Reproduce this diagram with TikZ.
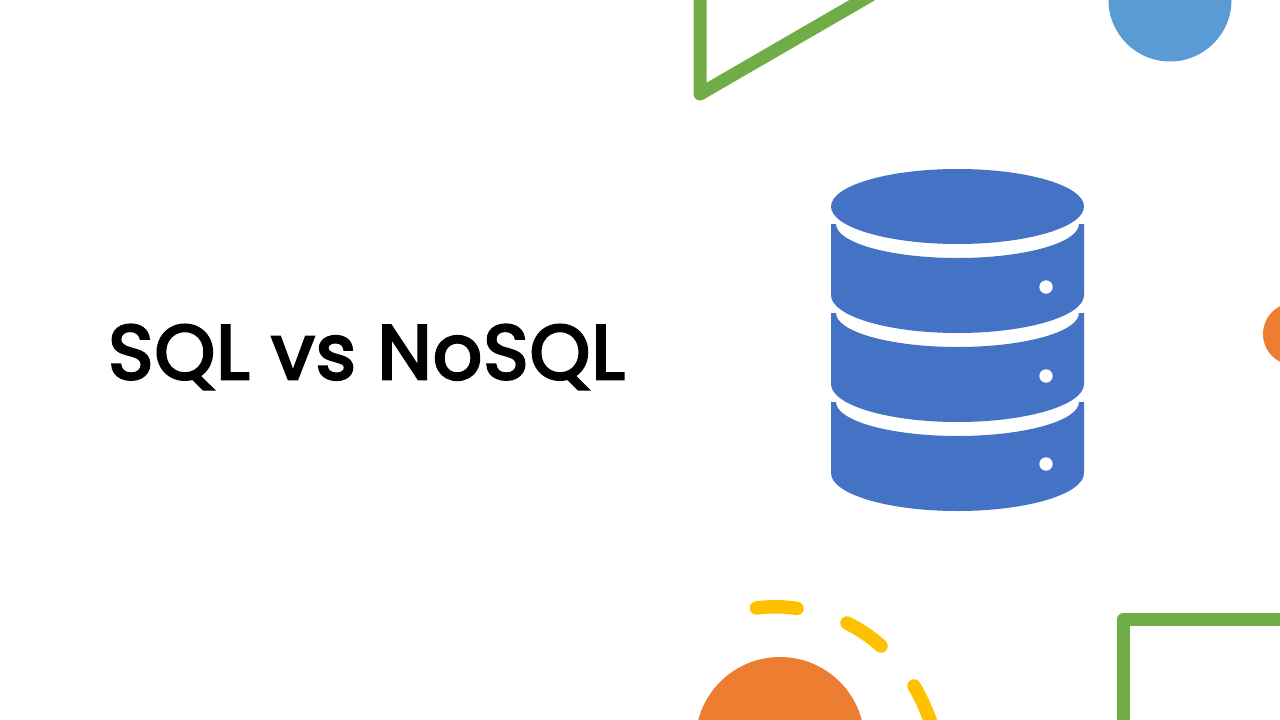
\documentclass[tikz,border=0pt]{standalone}
\usepackage{fontspec}
\setmainfont{Poppins}[FakeBold=3.5,LetterSpace=1.5]
\definecolor{dbblue}{HTML}{4472C4}
\definecolor{skyblue}{HTML}{5B9BD5}
\definecolor{shapeorange}{HTML}{ED7D31}
\definecolor{shapegreen}{HTML}{70AD47}
\definecolor{shapeyellow}{HTML}{FFC000}
\tikzset{
  greenline/.style={draw=shapegreen,line width=13pt,line join=round},
  yellowdash/.style={draw=shapeyellow,line width=13.5pt,line cap=round},
  dbhole/.style={fill=white},
  titletext/.style={anchor=center,inner sep=0pt,font=\fontsize{77pt}{90pt}\selectfont,text=black}
}
\newcommand{\dbband}[1]{%
  \fill[dbblue] (831,#1) -- (836,#1) arc[start angle=180,end angle=0,x radius=121.5,y radius=34] -- (1084,#1) -- (1084,#1+71)
    arc[start angle=0,end angle=180,x radius=126.5,y radius=38] -- cycle;
}
\begin{document}
\begin{tikzpicture}[x=1pt,y=-1pt]
\useasboundingbox (0,0) rectangle (1280,720);
\fill[white] (0,0) rectangle (1280,720);
\clip (0,0) rectangle (1280,720);
% decorations
\draw[greenline] (700,-60) -- (700,94) -- (890,-16);
\fill[skyblue] (1170,0) circle[radius=61.5];
\fill[shapeorange] (1294,334) circle[radius=31];
\fill[shapeorange] (780,741.5) circle[radius=84.5];
\draw[greenline] (1300,619.5) -- (1123.5,619.5) -- (1123.5,760);
\draw[yellowdash] (756.5,608) .. controls (770,606.3) and (784,606.3) .. (797,608.5);
\draw[yellowdash] (847,623) .. controls (860,629.5) and (871,637) .. (881,646);
\draw[yellowdash] (914,686) .. controls (922,699) and (929,716) .. (935,735);
% database
\fill[dbblue] (957.5,206.5) ellipse[x radius=126.5,y radius=37.5];
\dbband{224}
\dbband{313}
\dbband{402}
\fill[dbhole] (1046,287) circle[radius=6.7];
\fill[dbhole] (1046,376) circle[radius=6.7];
\fill[dbhole] (1046,464) circle[radius=6.7];
% title
\node[titletext] (title) at (366.5,357) {SQL vs NoSQL};
\end{tikzpicture}
\end{document}
